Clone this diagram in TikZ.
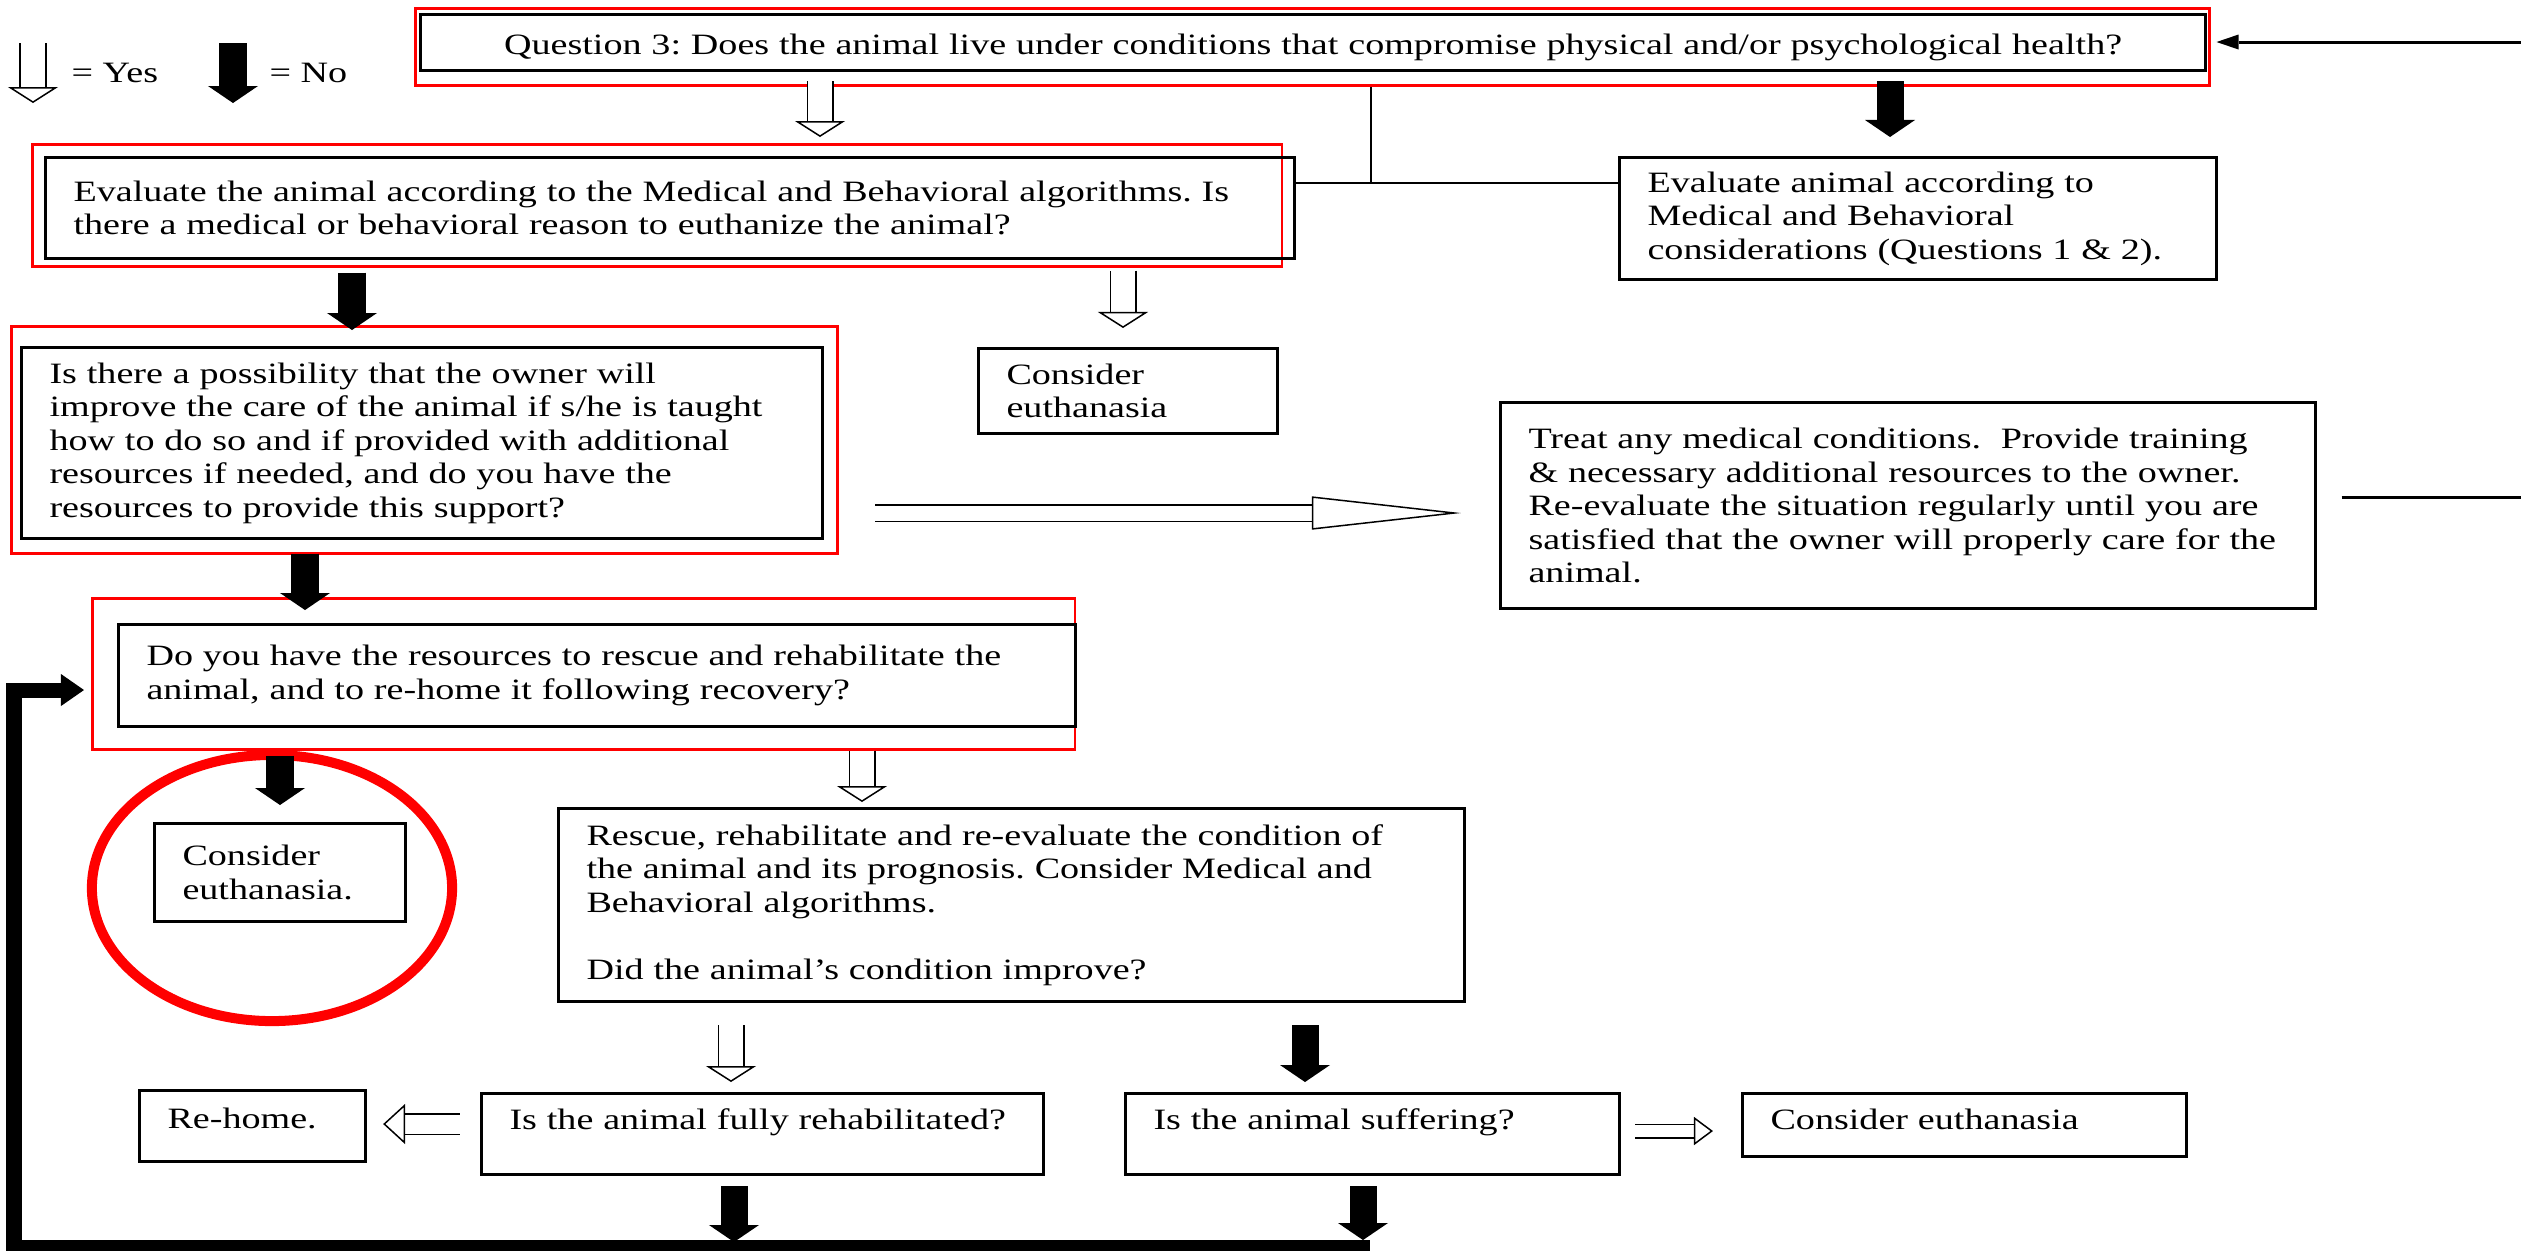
\documentclass[tikz,border=0pt]{standalone}
\usepackage{fontspec}
\setmainfont{Liberation Serif}[FakeStretch=1.29]
\usetikzlibrary{arrows.meta}
\frenchspacing

\begin{document}
\begin{tikzpicture}
[x=0.01cm, y=-0.01cm,
 font=\fontsize{8.4pt}{9.53pt}\selectfont,
 box/.style={draw, line width=0.03cm, anchor=north west, align=left, inner xsep=0.28cm, inner ysep=0pt},
 redbox/.style={draw=red, line width=0.025cm, anchor=north west, inner sep=0pt},
 noarr/.style={line width=0.27cm, -{Triangle[length=0.17cm, width=0.5cm, line width=0pt]}},
 yesarr/.style={line width=0.015cm, double=white, double distance=0.24cm,
   -{Triangle[length=0.16cm, width=0.5cm, line width=0.015cm, fill=white]}},
 thinline/.style={line width=0.02cm},
 backline/.style={line width=0.15cm, -{Triangle[length=0.23cm, width=0.32cm, line width=0pt]}}]

\useasboundingbox (0,0) rectangle (2521,1250);

% legend
\coordinate (ly1) at (33,43);
\coordinate (ly2) at (33,103);
\coordinate (ln1) at (233,43);
\coordinate (ln2) at (233,103);
\node (yestxt) at (71,82) [anchor=base west, inner sep=0pt] {= Yes};
\node (notxt) at (269,82) [anchor=base west, inner sep=0pt] {= No};
\draw[yesarr] (ly1) -- (ly2);
\draw[noarr] (ln1) -- (ln2);

% red frames
\node (q3r) at (414,7) [redbox, minimum width=17.93cm, minimum height=0.77cm] {};
\node (evr) at (31,143) [redbox, minimum width=12.49cm, minimum height=1.22cm] {};
\node (psr) at (10,325) [redbox, minimum width=8.26cm, minimum height=2.27cm] {};
\node (dyr) at (91,597) [redbox, minimum width=9.82cm, minimum height=1.51cm] {};

% boxes
\node (q3) at (419,13) [box, align=center, text width=17.28cm, minimum height=0.56cm,
  text height=0.25cm, text depth=0.01cm]
  {Question 3: Does the animal live under conditions that compromise physical and/or psychological health?};
\node (ev) at (44,156) [box, text width=11.92cm, minimum height=1.01cm]
  {Evaluate the animal according to the Medical and Behavioral algorithms. Is\\
   there a medical or behavioral reason to euthanize the animal?};
\node (ea) at (1618,156) [box, text width=5.41cm, minimum height=1.22cm]
  {Evaluate animal according to\\ Medical and Behavioral\\ considerations (Questions 1 \& 2).};
\node (ps) at (20,346) [box, text width=7.45cm, minimum height=1.91cm]
  {Is there a possibility that the owner will\\
   improve the care of the animal if s/he is taught\\
   how to do so and if provided with additional\\
   resources if needed, and do you have the\\
   resources to provide this support?};
\node (ct) at (977,347) [box, text width=2.43cm, minimum height=0.85cm]
  {Consider\\ euthanasia};
\node (tr) at (1499,401) [box, text width=7.58cm, minimum height=2.06cm]
  {Treat any medical conditions.\ \ Provide training\\
   \& necessary additional resources to the owner.\\
   Re-evaluate the situation regularly until you are\\
   satisfied that the owner will properly care for the\\
   animal.};
\node (dy) at (117,623) [box, text width=9.0cm, minimum height=1.02cm]
  {Do you have the resources to rescue and rehabilitate the\\
   animal, and to re-home it following recovery?};
\node (ce) at (153,822) [box, text width=1.95cm, minimum height=0.98cm]
  {Consider\\ euthanasia.};
\node (rr) at (557,807) [box, text width=8.49cm, minimum height=1.93cm]
  {Rescue, rehabilitate and re-evaluate the condition of\\
   the animal and its prognosis. Consider Medical and\\
   Behavioral algorithms.\\[0.335cm]
   Did the animal’s condition improve?};
\node (rh) at (138,1089) [box, text width=1.70cm, minimum height=0.71cm,
  text height=0.2cm, text depth=0.15cm] {Re-home.};
\node (fr) at (480,1092) [box, text width=5.06cm, minimum height=0.81cm,
  text height=0.2cm, text depth=0.29cm] {Is the animal fully rehabilitated?};
\node (su) at (1124,1092) [box, text width=4.38cm, minimum height=0.81cm,
  text height=0.2cm, text depth=0.29cm] {Is the animal suffering?};
\node (cb) at (1741,1092) [box, text width=3.88cm, minimum height=0.63cm,
  text height=0.2cm, text depth=0.11cm] {Consider euthanasia};

% highlight
\draw[red, line width=0.1cm] (272,888) ellipse [x radius=1.8cm, y radius=1.33cm];

% thin connectors
\coordinate (j) at (1371,183);
\coordinate (r1) at (2521,42);
\coordinate (r2) at (2521,497);
\draw[thinline] (q3r.south -| j) -- (j);
\draw[thinline] (ev.east |- j) -- (ea.west |- j);
\draw[line width=0.03cm, -{Triangle[length=0.22cm, width=0.15cm, line width=0pt]}, shorten >=0.06cm]
  (r1) -- (q3r.east |- r1);
\draw[line width=0.03cm, shorten <=0.25cm] (tr.east |- r2) -- (r2);

% block arrows
\draw[yesarr, shorten <=0.09cm, shorten >=0.06cm] (q3.south -| 820,0) -- (evr.north -| 820,0);
\draw[noarr, shorten <=0.09cm, shorten >=0.19cm] (q3.south -| 1890,0) -- (ea.north -| 1890,0);
\draw[noarr, shorten <=0.05cm, shorten >=-0.05cm] (evr.south -| 352,0) -- (psr.north -| 352,0);
\draw[yesarr, shorten <=0.03cm, shorten >=0.19cm] (evr.south -| 1123,0) -- (ct.north -| 1123,0);
\draw[yesarr, double distance=0.15cm, shorten <=0.36cm, shorten >=0.38cm,
  -{Triangle[length=1.49cm, width=0.33cm, line width=0.015cm, fill=white]}]
  (psr.east |- 0,513) -- (tr.west |- 0,513);
\draw[noarr, shorten <=-0.01cm, shorten >=-0.13cm] (psr.south -| 305,0) -- (dyr.north -| 305,0);
\draw[noarr, shorten <=0.05cm, shorten >=0.17cm] (dyr.south -| 280,0) -- (ce.north -| 280,0);
\draw[yesarr, shorten >=0.05cm] (dyr.south -| 862,0) -- (rr.north -| 862,0);
\draw[yesarr, shorten <=0.22cm, shorten >=0.10cm] (rr.south -| 731,0) -- (fr.north -| 731,0);
\draw[noarr, shorten <=0.22cm, shorten >=0.10cm] (rr.south -| 1305,0) -- (su.north -| 1305,0);
\draw[yesarr, double distance=0.19cm, shorten <=0.2cm, shorten >=0.16cm,
  -{Triangle[length=0.22cm, width=0.40cm, line width=0.015cm, fill=white]}]
  (fr.west |- 0,1124) -- (rh.east |- 0,1124);
\draw[yesarr, double distance=0.12cm, shorten <=0.14cm, shorten >=0.28cm,
  -{Triangle[length=0.19cm, width=0.28cm, line width=0.015cm, fill=white]}]
  (su.east |- 0,1131) -- (cb.west |- 0,1131);

% back to rescue question
\coordinate (b1) at (14,1247);
\coordinate (b2) at (1370,1247);
\coordinate (b3) at (14,690);
\draw[noarr, shorten <=0.1cm, shorten >=0.05cm] (fr.south -| 734,0) -- (b1 -| 734,0);
\draw[noarr, shorten <=0.1cm, shorten >=0.07cm] (su.south -| 1363,0) -- (b1 -| 1363,0);
\draw[backline, shorten >=0.07cm] (b2) -- (b1) -- (b3) -- (b3 -| dyr.west);
\end{tikzpicture}
\end{document}
